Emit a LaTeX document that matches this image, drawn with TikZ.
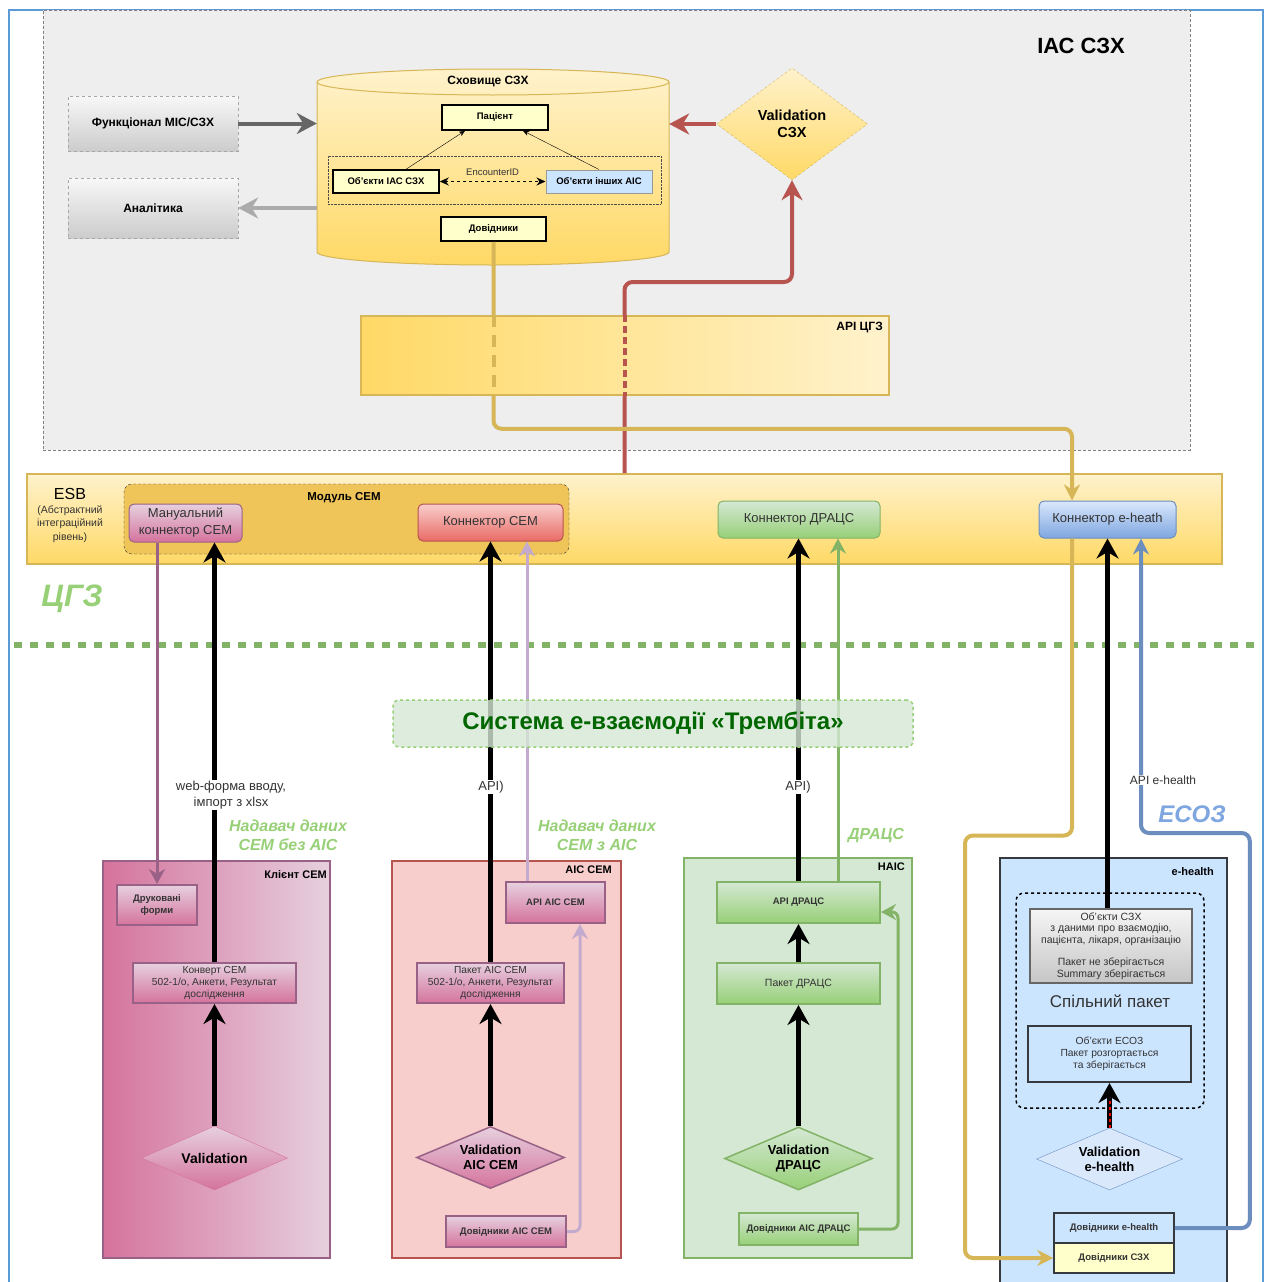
\documentclass[tikz,border=0pt]{standalone}
\usepackage{fontspec}
\setmainfont{Liberation Sans}
\setsansfont{Liberation Sans}
\usetikzlibrary{shapes.geometric,arrows.meta,positioning}

\definecolor{frameblue}{HTML}{5B9BD5}
\definecolor{areagray}{HTML}{EEEEEE}
\definecolor{yelL}{HTML}{FFF2CC}
\definecolor{yelD}{HTML}{FFD966}
\definecolor{yelLn}{HTML}{D6B656}
\definecolor{paleyel}{HTML}{FFFFCC}
\definecolor{redL}{HTML}{F8CECC}
\definecolor{redD}{HTML}{EA6B66}
\definecolor{redLn}{HTML}{B85450}
\definecolor{pinkL}{HTML}{E6D0DE}
\definecolor{pinkD}{HTML}{D5739D}
\definecolor{pinkLn}{HTML}{996185}
\definecolor{greenL}{HTML}{D5E8D4}
\definecolor{greenD}{HTML}{97D077}
\definecolor{greenLn}{HTML}{82B366}
\definecolor{blueL}{HTML}{DAE8FC}
\definecolor{blueD}{HTML}{7EA6E0}
\definecolor{blueLn}{HTML}{6C8EBF}
\definecolor{ehback}{HTML}{CCE5FF}
\definecolor{darkLn}{HTML}{36393D}
\definecolor{lavender}{HTML}{C3ABD0}
\definecolor{modulfill}{HTML}{EFC55A}
\definecolor{trembtext}{HTML}{006600}
\definecolor{txt}{HTML}{333333}
\newcommand{\fs}[2]{\fontsize{#1}{#2}\selectfont}

\tikzset{
    wh/.style 2 args={minimum width=#1pt, minimum height=#2pt, inner sep=0pt, align=center},
    graybox/.style={draw=gray!70, dashed, thin, top color=gray!6, bottom color=gray!40, font={\bfseries\fs{12}{14}}},
    yelbox/.style={fill=paleyel, draw=black, line width=1.5pt, font={\bfseries\fs{9.5}{11}}},
    pinkbox/.style={top color=pinkL, bottom color=pinkD, draw=pinkLn, line width=2pt, font={\fs{10}{12}}, text=txt},
    greenbox/.style={top color=greenL, bottom color=greenD, draw=greenLn, line width=2pt, font={\fs{10}{12}}, text=txt},
    ehbox/.style={fill=ehback, draw=darkLn, line width=1.5pt, font={\fs{10}{12}}, text=txt},
    conbox/.style={rounded corners=5pt, line width=1pt, font={\fs{13}{17}}, text=txt},
    contlbl/.style={anchor=north east, inner sep=0pt, font={\bfseries\fs{11}{13}}},
    smallbold/.style={font={\bfseries\fs{9.5}{12}}},
    pkgtext/.style={font={\fs{10.2}{12}}},
    valbox/.style={diamond, aspect=2.3, inner sep=0pt, align=center, font={\bfseries\fs{13}{15}}},
    blk/.style={draw=black, line width=5pt, -{Stealth[length=20pt,width=22pt]}},
    thinarr/.style={line width=3pt, rounded corners=6pt, -{Stealth[length=15pt,width=16pt]}},
    medarr/.style={line width=4pt, rounded corners=8pt, -{Stealth[length=16pt,width=16pt]}},
    fatarr/.style={line width=4pt, rounded corners=8pt, -{Stealth[length=20pt,width=21pt]}},
    apilbl/.style={fill=white, inner sep=1pt, align=center, font={\fs{13}{16}}, text=txt},
    provlbl/.style={align=center, text=greenD, font={\bfseries\itshape\fs{16}{19}}}
}

\begin{document}
\begin{tikzpicture}[x=1pt, y=-1pt]
\useasboundingbox (0,0) rectangle (1271,1282);
\fill[white] (0,0) rectangle (1271,1282);
\draw[frameblue, line width=2pt] (9,1300) |- (1263,10) -- (1263,1300);

\node[wh={1147}{440}, fill=areagray, draw=gray, densely dashed, thin] (iasarea) at (616.5,230) {};
\node[font={\bfseries\fs{22}{26}}] (iastitle) at (1081,46) {ІАС СЗХ};

\node[wh={352}{196}] (store) at (493,167) {};
\draw[yelLn, line width=1pt, top color=yelL, bottom color=yelD]
    (317,82) .. controls (317,74.8) and (395.8,69) .. (493,69)
    .. controls (590.2,69) and (669,74.8) .. (669,82) -- (669,252)
    .. controls (669,259.2) and (590.2,265) .. (493,265)
    .. controls (395.8,265) and (317,259.2) .. (317,252) -- cycle;
\draw[yelLn, line width=1pt] (317,82) .. controls (317,89.2) and (395.8,95) .. (493,95)
    .. controls (590.2,95) and (669,89.2) .. (669,82);
\node[font={\bfseries\fs{12}{14}}] (storetitle) at (488,82) {Сховище СЗХ};
\node[yelbox, wh={106}{25}] (pac) at (495,117.5) {Пацієнт};
\node[draw=black!70, densely dotted, thin, wh={333}{48}] (grp) at (494.5,180) {};
\node[yelbox, wh={106}{23}] (objias) at (386,181.5) {Об'єкти ІАС СЗХ};
\node[yelbox, fill=ehback, draw=gray!80, line width=1pt, wh={106}{23}] (objinsh) at (599,181.5) {Об'єкти інших АІС};
\node[yelbox, wh={105}{24}] (dov) at (493.5,229) {Довідники};
\draw[thin, -{Stealth[length=6pt,width=5pt]}] ([xshift=20pt]objias.north) -- ([xshift=-30pt]pac.south);
\draw[thin, -{Stealth[length=6pt,width=5pt]}] (objinsh.north) -- ([xshift=28pt]pac.south);
\draw[dashed, line width=1.3pt, {Stealth[length=9pt,width=8pt]}-{Stealth[length=9pt,width=8pt]}]
    (objias.east) -- node[above=2pt, font={\fs{9.5}{11}}, text=txt] (enc) {EncounterID} (objinsh.west);

\node[graybox, wh={170}{55}] (func) at (153,123.5) {Функціонал МІС/СЗХ};
\node[graybox, wh={170}{60}] (anal) at (153,208) {Аналітика};
\draw[fatarr, draw=black!60] (func.east) -- (func.east -| store.west);
\draw[fatarr, draw=black!33] (anal.east -| store.west) -- (anal.east);

\node[valbox, aspect=1.35, wh={151}{112}, top color=yelL, bottom color=yelD, draw=yelLn, densely dashed, thin, font={\bfseries\fs{14.5}{17}}] (valszh) at (792,124) {Validation\\СЗХ};
\draw[fatarr, draw=redLn] (valszh.west) -- (valszh.west -| store.east);

\node[wh={1195}{90}, top color=yelL, bottom color=yelD, draw=yelLn, line width=2pt] (esb) at (624.5,519) {};
\node[font={\fs{16}{18}}] (esblbl) at (70,494) {ESB};
\node[font={\fs{10.5}{13.5}}, text=txt, align=center] (esbsub) at (70,524) {(Абстрактний\\інтеграційний\\рівень)};
\node[wh={445}{70}, rounded corners=8pt, fill=modulfill, draw=black!80, densely dashed, thin] (modul) at (346.5,519) {};
\node[font={\bfseries\fs{11.5}{13}}] (modullbl) at (344,498) {Модуль СЕМ};
\node[conbox, wh={113}{38}, top color=pinkL, bottom color=pinkD, draw=pinkLn] (mancon) at (185.5,523) {Мануальний\\коннектор СЕМ};
\node[conbox, wh={145}{37}, top color=redL, bottom color=redD, draw=redLn] (semcon) at (490.5,522.5) {Коннектор СЕМ};
\node[conbox, wh={162}{37}, top color=greenL, bottom color=greenD, draw=greenLn] (dracon) at (799,519.5) {Коннектор ДРАЦС};
\node[conbox, wh={137}{37}, top color=blueL, bottom color=blueD, draw=blueLn] (ehcon) at (1107.5,519.5) {Коннектор e-heath};

\draw[fatarr, draw=redLn] (esb.north) -- ++(0,-191) -| (valszh.south);
\draw[medarr, draw=yelLn] (dov.south) -- ++(0,187) -| ([xshift=-35.5pt]ehcon.north);
\node[wh={528}{79}, left color=yelD, right color=yelL, draw=yelLn, line width=2pt] (apicgz) at (625,355.5) {};
\node[contlbl, font={\bfseries\fs{12}{14}}] (apicgzlbl) at ([xshift=-7pt,yshift=-7pt]apicgz.north east) {API ЦГЗ};
\draw[redLn, line width=4pt, dash pattern=on 7pt off 4pt] (apicgz.north) -- (apicgz.south);
\draw[yelLn, line width=4pt, dash pattern=on 12pt off 8pt] (apicgz.north -| dov.south) -- (apicgz.south -| dov.south);

\node[font={\bfseries\itshape\fs{31}{34}}, text=greenD] (cgz) at (72,599) {ЦГЗ};
\draw[greenLn, line width=6pt, dash pattern=on 8pt off 8pt] (14,645) -- (1258,645);

\node[wh={227}{397}, left color=pinkD, right color=pinkL, draw=pinkLn, line width=2pt] (klient) at (216.5,1059.5) {};
\node[contlbl] (klientlbl) at ([xshift=-4pt,yshift=-10pt]klient.north east) {Клієнт СЕМ};
\node[pinkbox, smallbold, wh={80}{40}] (druk) at (157,905) {Друковані\\форми};
\node[pinkbox, pkgtext, wh={163}{40}] (konv) at (214.5,983) {Конверт СЕМ\\502-1/о, Анкети, Результат\\дослідження};
\node[valbox, wh={146}{64}, top color=pinkL, bottom color=pinkD, draw=pinkD, font={\bfseries\fs{14}{17}}] (valk) at (214.5,1158) {Validation};

\node[wh={229}{397}, fill=redL, draw=redLn, line width=2pt] (aiscem) at (506.5,1059.5) {};
\node[contlbl] (aiscemlbl) at ([xshift=-10pt,yshift=-6pt]aiscem.north east) {АІС СЕМ};
\node[pinkbox, smallbold, wh={99}{41}] (apiais) at (555.5,902.5) {API АІС СЕМ};
\node[pinkbox, pkgtext, wh={147}{40}] (pakais) at (490.5,983) {Пакет АІС СЕМ\\502-1/о, Анкети, Результат\\дослідження};
\node[valbox, wh={148}{62}, top color=pinkL, bottom color=pinkD, draw=pinkLn, line width=1.5pt] (valais) at (490.5,1157.5) {Validation\\АІС СЕМ};
\node[pinkbox, smallbold, wh={120}{31}] (dovais) at (506,1231.5) {Довідники АІС СЕМ};

\node[wh={228}{400}, fill=greenL, draw=greenLn, line width=2pt] (nais) at (798,1058) {};
\node[contlbl] (naislbl) at ([xshift=-8pt,yshift=-6pt]nais.north east) {НАІС};
\node[greenbox, smallbold, wh={163}{41}] (apidr) at (798.5,902.5) {API ДРАЦС};
\node[greenbox, wh={163}{41}, font={\fs{10.5}{12}}] (pakdr) at (798.5,983.5) {Пакет ДРАЦС};
\node[valbox, wh={148}{63}, top color=greenL, bottom color=greenD, draw=greenLn, line width=1.5pt] (valdr) at (798.5,1158.5) {Validation\\ДРАЦС};
\node[greenbox, smallbold, wh={119}{32}] (dovdr) at (798.5,1229) {Довідники АІС ДРАЦС};

\node[wh={227}{440}, fill=ehback, draw=darkLn, line width=2pt] (ehealth) at (1113.5,1078) {};
\node[contlbl] (ehealthlbl) at ([xshift=-14pt,yshift=-10pt]ehealth.north east) {e-health};
\node[wh={188}{215}, rounded corners=8pt, draw=black, dashed, line width=1.5pt] (spil) at (1110,1000.5) {};
\node[wh={162}{74}, top color=gray!8, bottom color=gray!45, draw=black!60, line width=1.5pt, font={\fs{10.5}{11.8}}, text=txt] (objszh) at (1111,946) {Об'єкти СЗХ\\з даними про взаємодію,\\пацієнта, лікаря, організацію\\[10pt]Пакет не зберігається\\Summary зберігається};
\node[font={\fs{17}{20}}, text=txt] (spillbl) at (1110,1001) {Спільний пакет};
\node[ehbox, wh={163}{56}, line width=2pt, font={\fs{10.3}{12}}] (objesoz) at (1109.5,1054) {Об'єкти ЕСОЗ\\Пакет розгортається\\та зберігається};
\node[valbox, wh={146}{62}, fill=blueL, draw=blueLn, thin] (valeh) at (1109.5,1159) {Validation\\e-health};
\node[ehbox, smallbold, wh={120}{30}] (doveh) at (1114,1228) {Довідники e-health};
\node[ehbox, smallbold, fill=paleyel, wh={120}{30}] (dovszh) at (1114,1258) {Довідники СЗХ};

\node[provlbl] (provbez) at (288,835) {Надавач даних\\СЕМ без АІС};
\node[provlbl] (provz) at (597,835) {Надавач даних\\СЕМ з АІС};
\node[provlbl] (provdr) at (876,835) {ДРАЦС};
\node[font={\bfseries\itshape\fs{24}{28}}, text=blueD] (esoz) at (1192,814) {ЕСОЗ};

\draw[thinarr, draw=pinkLn] (druk.north |- mancon.south) -- (druk.north);
\draw[blk] (konv.north) -- (konv.north |- mancon.south);
\draw[blk] (valk.north) -- (konv.south);
\draw[blk] (pakais.north) -- (pakais.north |- semcon.south);
\draw[blk] (valais.north) -- (pakais.south);
\draw[thinarr, draw=lavender] ([xshift=-28.5pt]apiais.north) -- ([xshift=-28.5pt]apiais.north |- semcon.south);
\draw[thinarr, draw=lavender] (dovais.east) -| ([xshift=24.5pt]apiais.south);
\draw[blk] (apidr.north) -- (apidr.north |- dracon.south);
\draw[blk] (pakdr.north) -- (apidr.south);
\draw[blk] (valdr.north) -- (pakdr.south);
\draw[thinarr, draw=greenLn] ([xshift=39.5pt]apidr.north) -- ([xshift=39.5pt]apidr.north |- dracon.south);
\draw[thinarr, draw=greenLn] (dovdr.east) -- ++(39,0) |- ([yshift=-9.5pt]apidr.east);
\draw[blk] (ehcon.south |- objszh.north) -- (ehcon.south);
\draw[medarr, draw=blueLn] (doveh.east) -- ++(75,0) -- ++(0,-395) -| ([xshift=33.5pt]ehcon.south);
\draw[medarr, draw=yelLn] ([xshift=-35.5pt]ehcon.south) -- ++(0,297) -- ++(-107,0) |- (dovszh.west);
\draw[blk] (valeh.north) -- (objesoz.south);
\draw[red, line width=2pt, dash pattern=on 3pt off 3pt, shorten >=18pt] (valeh.north) -- (objesoz.south);

\node[apilbl] (lblweb) at (231,795) {web-форма вводу,\\імпорт з xlsx};
\node[apilbl] (lblapi1) at (491,787) {API)};
\node[apilbl] (lblapi2) at (798,787) {API)};
\node[apilbl, font={\fs{12}{14}}] (apieh) at (1163,780) {API e-health};

\node[wh={520}{47}, rounded corners=6pt, fill=greenL, fill opacity=0.8, text opacity=1, draw=greenD, dashed, line width=1.5pt, font={\bfseries\fs{24}{28}}, text=trembtext] (tremb) at (653,723.5) {Система е-взаємодії «Трембіта»};
\end{tikzpicture}
\end{document}
